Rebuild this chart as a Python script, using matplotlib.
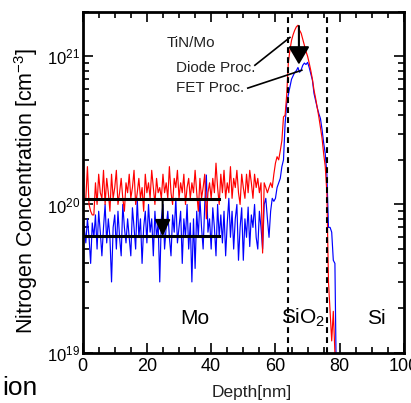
import matplotlib
matplotlib.use('Agg')
import matplotlib.pyplot as plt
import numpy as np

plt.rcParams['font.family'] = ['Liberation Sans', 'DejaVu Sans']
plt.rcParams['mathtext.default'] = 'regular'

# depth grid (nm), 0.5 nm steps
depth = np.arange(0, 79.01, 0.5)

# nitrogen concentration, units of 1e19 cm^-3
diode_proc = [
    12, 10.5, 11, 18, 10, 9, 8.5, 8.5, 14, 10,
    16, 12, 11, 17, 10, 15, 12, 9, 16, 11,
    13, 17, 10, 12, 15, 11, 9, 14, 12, 16,
    11, 13, 17, 10, 12, 15, 11, 13, 9, 16,
    12, 14, 11, 17, 13, 10, 15, 12, 13, 11,
    16, 12, 14, 11, 18, 12, 10, 15, 13, 17,
    11, 14, 12, 16, 10, 13, 15, 11, 14, 12,
    17, 12, 9, 15, 11, 13, 16, 8, 12, 14,
    11, 15, 12, 19, 13, 10, 16, 12, 17, 11,
    14, 12, 18, 11, 15, 13, 17, 12, 10, 16,
    13, 11, 16, 12, 17, 14, 11, 16, 13, 15,
    12, 14, 4.7, 14, 13, 12, 13, 14, 13, 16,
    19, 21, 20, 23, 27, 39, 40, 55, 90, 110,
    128, 140, 150, 158, 162, 150, 143, 130, 118, 108,
    100, 90, 80, 70, 59, 52, 45, 39, 33, 28,
    22, 18, 12, 3, 1.9, 1.2, 1.9, 1.0, 0.5,
]
fet_proc = [
    7.8, 7, 5.5, 8, 6, 4, 7.5, 6, 8.5, 5,
    9, 6.5, 4.5, 7, 10, 5.5, 8, 6, 3, 7,
    8.5, 5, 9, 6, 4.5, 10, 7, 5.5, 8, 6,
    4.5, 9.5, 7, 5, 11, 6, 8, 4, 7, 9,
    5.5, 10, 6.5, 8, 4.5, 9, 6, 7.5, 3, 8,
    10, 5, 7, 9, 6, 4.5, 8.5, 6.5, 11, 5.5,
    7, 9, 4, 8, 6, 10, 5, 7.5, 3, 8,
    3.7, 9, 6, 11, 7, 5, 10, 15.8, 6.5, 8,
    5, 9.5, 7, 4.5, 10, 6, 8.5, 5.5, 9, 4.5,
    7.5, 11, 6, 9, 5, 8, 10, 4.2, 7, 9.5,
    4.2, 8, 6, 9.6, 5.2, 8.5, 7, 10, 6, 5,
    9, 7, 5, 10, 11, 8, 6, 9, 11, 10.5,
    11, 13, 14, 15, 18, 20, 35, 48, 55, 62,
    70, 74, 78, 80, 84, 78, 81, 87, 90, 88,
    91, 84, 76, 69, 56, 50, 45, 41, 38, 32,
    26, 22, 16, 7, 7, 6.5, 4.2, 4, 0.5,
]
diode_proc = np.array(diode_proc) * 1e19
fet_proc = np.array(fet_proc) * 1e19

# interface positions (nm)
interfaces = [64, 76]
# Mo-layer average levels
level_diode = 1.09e20
level_fet = 6.1e19
level_xmax = 42.4
arrow_x = 24.9
peak_x = 67.3
peak_top = 1.6e21
peak_tip = 8.8e20

fig = plt.figure(figsize=(4.11, 4.03), dpi=100)
ax = fig.add_axes([0.201, 0.125, 0.782, 0.846])

ax.plot(depth, fet_proc, color='blue', lw=0.85)
ax.plot(depth, diode_proc, color='red', lw=0.85)

for xi in interfaces:
    ax.axvline(xi, color='black', lw=1.5, linestyle=(0, (2.8, 2)))

ax.plot([0, level_xmax], [level_diode, level_diode], color='black', lw=2.2)
ax.plot([0, level_xmax], [level_fet, level_fet], color='black', lw=2.2)

ax.annotate('', xy=(arrow_x, level_fet), xytext=(arrow_x, level_diode),
            arrowprops=dict(arrowstyle='-|>,head_length=1.0,head_width=0.47',
                            color='black', lw=1.5, shrinkA=0, shrinkB=0))
ax.annotate('', xy=(peak_x, peak_tip), xytext=(peak_x, peak_top),
            arrowprops=dict(arrowstyle='-|>,head_length=1.1,head_width=0.65',
                            color='black', lw=1.5, shrinkA=0, shrinkB=0))

# labels with leader lines
ax.text(26.2, 1.22e21, 'TiN/Mo', fontsize=11, color='#222222', va='center')
ax.text(29, 8.4e20, 'Diode Proc.', fontsize=11, color='#222222', va='center')
ax.text(29, 6.1e20, 'FET Proc.', fontsize=11, color='#222222', va='center')
ax.plot([53.6, 64.5], [8.7e20, 1.34e21], color='black', lw=1.2)
ax.plot([51.4, 68.2], [6.1e20, 8.05e20], color='black', lw=1.2)

ax.text(34.9, 1.71e19, 'Mo', fontsize=15, ha='center', va='center')
ax.text(61.8, 1.71e19, 'SiO$_2$', fontsize=15, ha='left', va='center')
ax.text(91.3, 1.71e19, 'Si', fontsize=15, ha='center', va='center')

ax.set_yscale('log')
ax.set_xlim(0, 100)
ax.set_ylim(1e19, 2e21)
ax.set_xticks([0, 20, 40, 60, 80, 100])
ax.set_xticks(np.arange(0, 101, 5), minor=True)
ax.tick_params(which='both', direction='in', top=True, right=True, width=1.2)
ax.tick_params(which='major', length=7)
ax.tick_params(which='minor', length=4)
ax.tick_params(axis='x', labelsize=13, pad=4)
ax.tick_params(axis='y', labelsize=12, pad=2)
for s in ax.spines.values():
    s.set_linewidth(2)

ax.set_xlabel('Depth[nm]', fontsize=12.5, color='#222222')
ax.xaxis.set_label_coords(0.525, -0.095)
ax.set_ylabel('Nitrogen Concentration [cm$^{-3}$]', fontsize=15.5)
ax.yaxis.set_label_coords(-0.134, 0.475)

# fragment of neighbouring text at bottom left
fig.text(0.005, 0.02, 'ion', fontsize=19, ha='left', va='baseline')

fig.savefig('out.png', dpi=100)
